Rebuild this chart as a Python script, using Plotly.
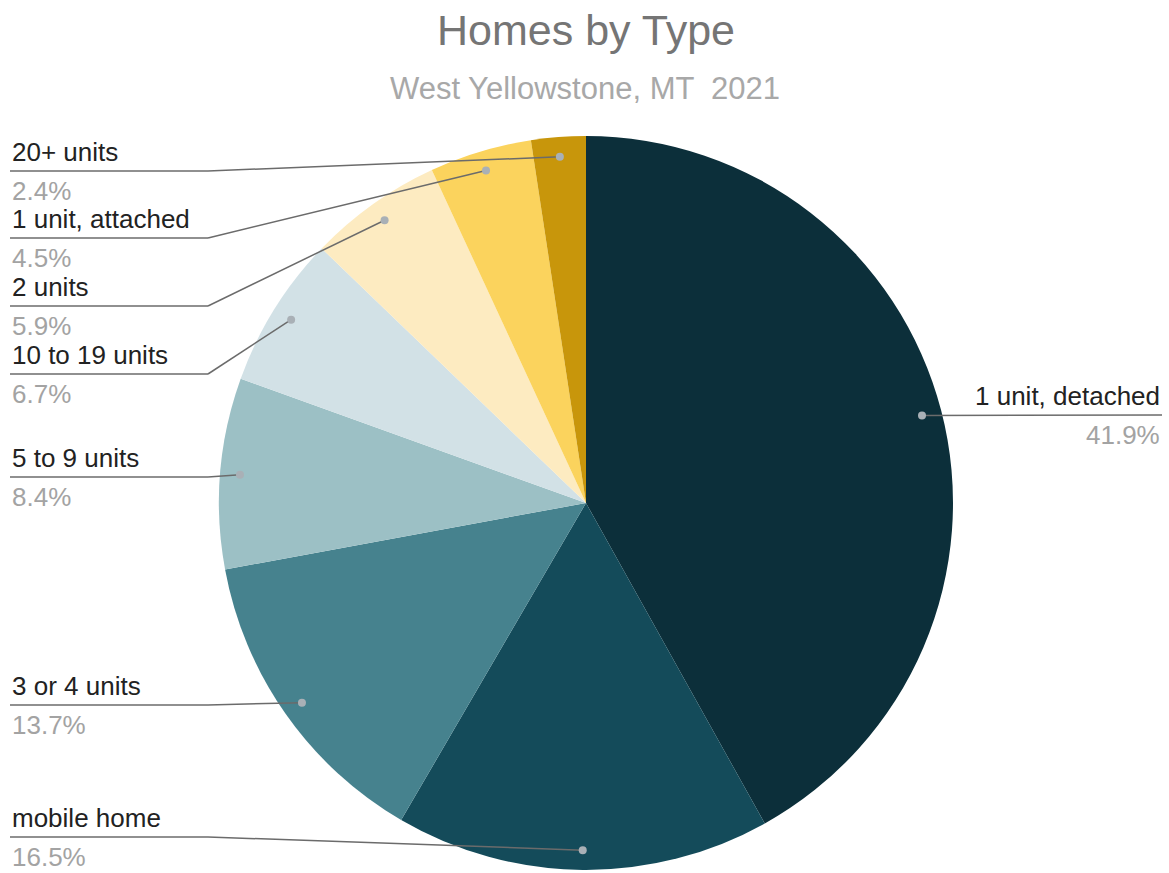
import math
import plotly.graph_objects as go

# ---- data ----
categories = ["1 unit, detached", "mobile home", "3 or 4 units", "5 to 9 units",
              "10 to 19 units", "2 units", "1 unit, attached", "20+ units"]
shares = [41.9, 16.5, 13.7, 8.4, 6.7, 5.9, 4.5, 2.4]
pct_labels = ["41.9%", "16.5%", "13.7%", "8.4%", "6.7%", "5.9%", "4.5%", "2.4%"]
colors = ["#0c2f3a", "#144b5a", "#46828e", "#9cc0c5", "#d2e1e6",
          "#fdebc1", "#fbd35d", "#c8960b"]

# ---- layout (pixels) ----
W, H = 1169, 873
CX, CY, R = 586, 503, 367
DOT_R = 0.946 * R
# label line y per category, side
label_line_y = [415, 837, 705, 477, 374, 306, 238, 171]
label_side = ["right", "left", "left", "left", "left", "left", "left", "left"]
ELBOW_X = 208
LEFT_X = 10
RIGHT_X = 1162

FONT = "Liberation Sans, Arial, sans-serif"


def px(x):
    return x / W


def py(y):
    return 1 - y / H


fig = go.Figure()
fig.add_trace(go.Pie(
    labels=categories, values=shares, sort=False, direction="clockwise",
    rotation=0, marker=dict(colors=colors, line=dict(width=0)),
    textinfo="none", hoverinfo="label+percent", showlegend=False,
    domain=dict(x=[px(CX - R), px(CX + R)], y=[py(CY + R), py(CY - R)]),
))

shapes = []
annotations = []
total = sum(shares)
cum = 0.0
for i, v in enumerate(shares):
    mid = (cum + v / 2) / total * 2 * math.pi
    cum += v
    dx = CX + DOT_R * math.sin(mid)
    dy = CY - DOT_R * math.cos(mid)
    ly = label_line_y[i]
    line_style = dict(color="#6b6b6b", width=1.5)
    if label_side[i] == "left":
        shapes.append(dict(type="line", xref="paper", yref="paper",
                           x0=px(LEFT_X), y0=py(ly), x1=px(ELBOW_X), y1=py(ly),
                           line=line_style, layer="above"))
        shapes.append(dict(type="line", xref="paper", yref="paper",
                           x0=px(ELBOW_X), y0=py(ly), x1=px(dx), y1=py(dy),
                           line=line_style, layer="above"))
        tx, anchor = LEFT_X, "left"
    else:
        shapes.append(dict(type="line", xref="paper", yref="paper",
                           x0=px(dx), y0=py(dy), x1=px(RIGHT_X), y1=py(ly),
                           line=line_style, layer="above"))
        tx, anchor = RIGHT_X, "right"
    shapes.append(dict(type="circle", xref="paper", yref="paper",
                       x0=px(dx - 4), x1=px(dx + 4), y0=py(dy + 4), y1=py(dy - 4),
                       fillcolor="#a9b0b6", line=dict(width=0), layer="above"))
    annotations.append(dict(text=categories[i], xref="paper", yref="paper",
                            x=px(tx), y=py(ly - 2), xanchor=anchor, yanchor="bottom",
                            showarrow=False, font=dict(family=FONT, size=26, color="#222222")))
    annotations.append(dict(text=pct_labels[i], xref="paper", yref="paper",
                            x=px(tx), y=py(ly + 3), xanchor=anchor, yanchor="top",
                            showarrow=False, font=dict(family=FONT, size=26, color="#a3a3a3")))

annotations.append(dict(text="Homes by Type", xref="paper", yref="paper",
                        x=px(586), y=py(30), xanchor="center", yanchor="middle",
                        showarrow=False, font=dict(family=FONT, size=43, color="#757575")))
annotations.append(dict(text="West Yellowstone, MT  2021", xref="paper", yref="paper",
                        x=px(585), y=py(89), xanchor="center", yanchor="middle",
                        showarrow=False, font=dict(family=FONT, size=31, color="#a8a8a8")))

fig.update_layout(
    width=W, height=H, margin=dict(l=0, r=0, t=0, b=0),
    paper_bgcolor="white", plot_bgcolor="white",
    shapes=shapes, annotations=annotations,
)

fig.write_html("out.html", config={"displayModeBar": False},
               post_script="document.body.style.margin='0';document.body.style.overflow='hidden';")
